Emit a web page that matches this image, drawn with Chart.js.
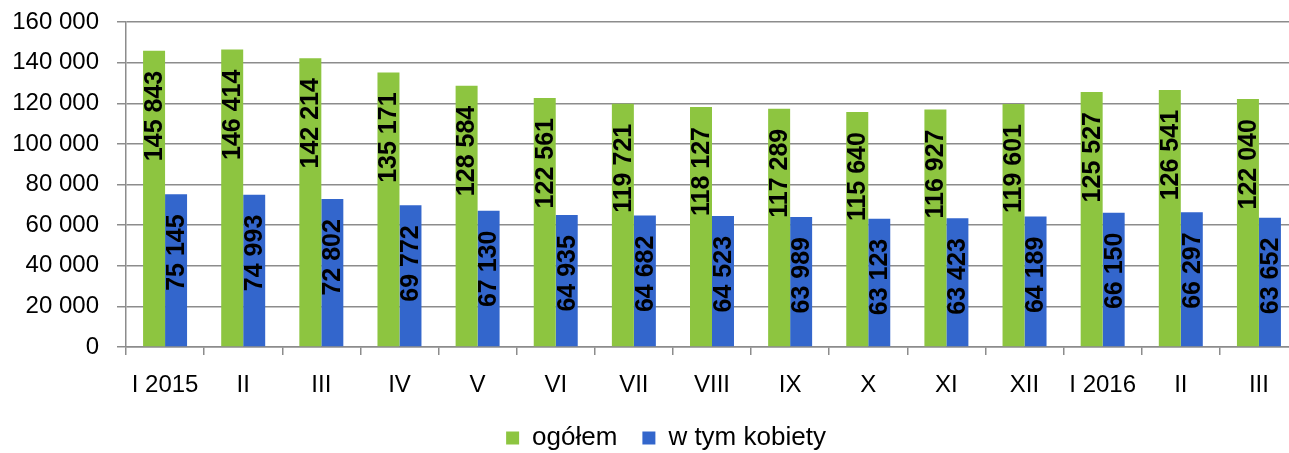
<!DOCTYPE html>
<html>
<head>
<meta charset="utf-8">
<script src="https://cdn.jsdelivr.net/npm/chart.js@4/dist/chart.umd.min.js"></script>
<style>
  html, body { margin: 0; padding: 0; background: #fff; overflow: hidden; }
  #wrap { width: 1298px; height: 461px; }
</style>
</head>
<body>
<div id="wrap"><canvas id="chart"></canvas></div>
<script>
// months Jan 2015 - Mar 2016
var categories = ['I 2015', 'II', 'III', 'IV', 'V', 'VI', 'VII', 'VIII', 'IX', 'X', 'XI', 'XII', 'I 2016', 'II', 'III'];
var ogolem = [145843, 146414, 142214, 135171, 128584, 122561, 119721, 118127, 117289, 115640, 116927, 119601, 125527, 126541, 122040];
var kobiety = [75145, 74993, 72802, 69772, 67130, 64935, 64682, 64523, 63989, 63123, 63423, 64189, 66150, 66297, 63652];
var yTicks = [0, 20000, 40000, 60000, 80000, 100000, 120000, 140000, 160000];

var FONT = '"Liberation Sans", Arial, sans-serif';

function fmt(v) {
  return String(v).replace(/\B(?=(\d{3})+(?!\d))/g, ' ');
}

// labels rotated inside the top of each bar
var barLabels = {
  id: 'barLabels',
  afterDatasetsDraw: function (chart) {
    var ctx = chart.ctx;
    ctx.save();
    ctx.font = 'bold 25px ' + FONT;
    ctx.fillStyle = '#000';
    ctx.textAlign = 'right';
    ctx.textBaseline = 'middle';
    chart.data.datasets.forEach(function (ds, i) {
      chart.getDatasetMeta(i).data.forEach(function (bar, j) {
        ctx.save();
        ctx.translate(bar.x + 1, bar.y + 20);
        ctx.rotate(-Math.PI / 2);
        ctx.fillText(fmt(ds.data[j]), 0, 0);
        ctx.restore();
      });
    });
    ctx.restore();
  }
};

// legend sits a bit right of the canvas centre
var legendShift = {
  id: 'legendShift',
  afterLayout: function (chart) {
    if (chart.legend) {
      chart.legend.left += 17;
      chart.legend.right += 17;
    }
  }
};

new Chart(document.getElementById('chart'), {
  type: 'bar',
  data: {
    labels: categories,
    datasets: [{
      label: 'ogółem',
      data: ogolem,
      backgroundColor: '#8dc540'
    }, {
      label: 'w tym kobiety',
      data: kobiety,
      backgroundColor: '#3366cc'
    }]
  },
  options: {
    responsive: true,
    maintainAspectRatio: false,
    animation: false,
    events: [],
    layout: { padding: { top: 22, right: 0, bottom: 0, left: 0 } },
    datasets: { bar: { categoryPercentage: 0.563, barPercentage: 1 } },
    plugins: {
      tooltip: { enabled: false },
      legend: {
        position: 'bottom',
        labels: {
          color: '#000',
          font: { family: FONT, size: 26 },
          boxWidth: 13,
          boxHeight: 13,
          padding: 25
        }
      }
    },
    scales: {
      x: {
        offset: true,
        grid: { offset: true, drawOnChartArea: false, color: '#8c8c8c', tickLength: 8, lineWidth: 1.5 },
        border: { color: '#8c8c8c', width: 1.5 },
        ticks: { color: '#000', font: { family: FONT, size: 24 }, padding: 16, maxRotation: 0, autoSkip: false },
        afterFit: function (s) { s.height = 53; s.paddingLeft = 0; s.paddingRight = 0; }
      },
      y: {
        min: 0,
        max: 160000,
        afterBuildTicks: function (s) { s.ticks = yTicks.map(function (v) { return { value: v }; }); },
        grid: { color: '#8c8c8c', tickLength: 9, lineWidth: 1.5 },
        border: { color: '#8c8c8c', width: 1.5 },
        ticks: { color: '#000', font: { family: FONT, size: 24 }, padding: 18, callback: function (v) { return fmt(v); } },
        afterFit: function (s) { s.width = 126; s.paddingTop = 0; s.paddingBottom = 0; }
      }
    }
  },
  plugins: [barLabels, legendShift]
});
</script>
</body>
</html>
